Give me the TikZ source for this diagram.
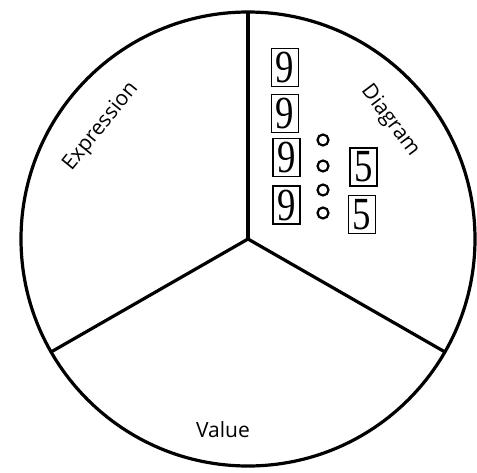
\documentclass[tikz,border=0pt]{standalone}
\usepackage{fontspec}
\setmainfont{Open Sans}
\newfontfamily\numfont{Liberation Serif}
\usepackage{tikz}
\usetikzlibrary{positioning}

\newcommand{\digitbox}[1]{\scalebox{0.8}[1]{#1}}

\tikzset{
	rim/.style={line width=3.2pt},
	numbox/.style={draw, line width=1.2pt, minimum width=27pt, minimum height=38pt, inner sep=0pt,
		font=\numfont\fontsize{46}{46}\selectfont},
	dot/.style={circle, draw, line width=2.2pt, minimum size=11pt, inner sep=0pt},
	sector/.style={font=\fontsize{21}{21}\selectfont, text=black, inner sep=0pt}
}

\begin{document}
\begin{tikzpicture}[x=1pt,y=-1pt]
	\useasboundingbox (0,0) rectangle (477,472);

	% wheel and spokes
	\coordinate (O) at (248,239);
	\coordinate (top) at (248,12);
	\coordinate (left) at (51,352);
	\coordinate (right) at (445,352);
	\draw [rim] (O) circle [radius=227];
	\draw [rim] (O) -- (top);
	\draw [rim] (O) -- (left);
	\draw [rim] (O) -- (right);

	% sector labels
	\node (expr) [sector, rotate=51] at (101,127) {Expression};
	\node (diag) [sector, rotate=-53] at (390,121) {Diagram};
	\node (val) [sector] at (223,430) {Value};

	% numbers in the diagram sector
	\node (nineA) [numbox] at (285,67.5) {\digitbox{9}};
	\node (nineB) [numbox] at (285,113.5) {\digitbox{9}};
	\node (nineC) [numbox] at (286.5,157.5) {\digitbox{9}};
	\node (nineD) [numbox] at (286.5,205) {\digitbox{9}};
	\node (fiveA) [numbox] at (363.5,167) {\digitbox{5}};
	\node (fiveB) [numbox] at (362,214.5) {\digitbox{5}};

	\node (dotA) [dot] at (323,140) {};
	\node (dotB) [dot] at (323,166) {};
	\node (dotC) [dot] at (323,190) {};
	\node (dotD) [dot] at (323,213) {};
\end{tikzpicture}
\end{document}
